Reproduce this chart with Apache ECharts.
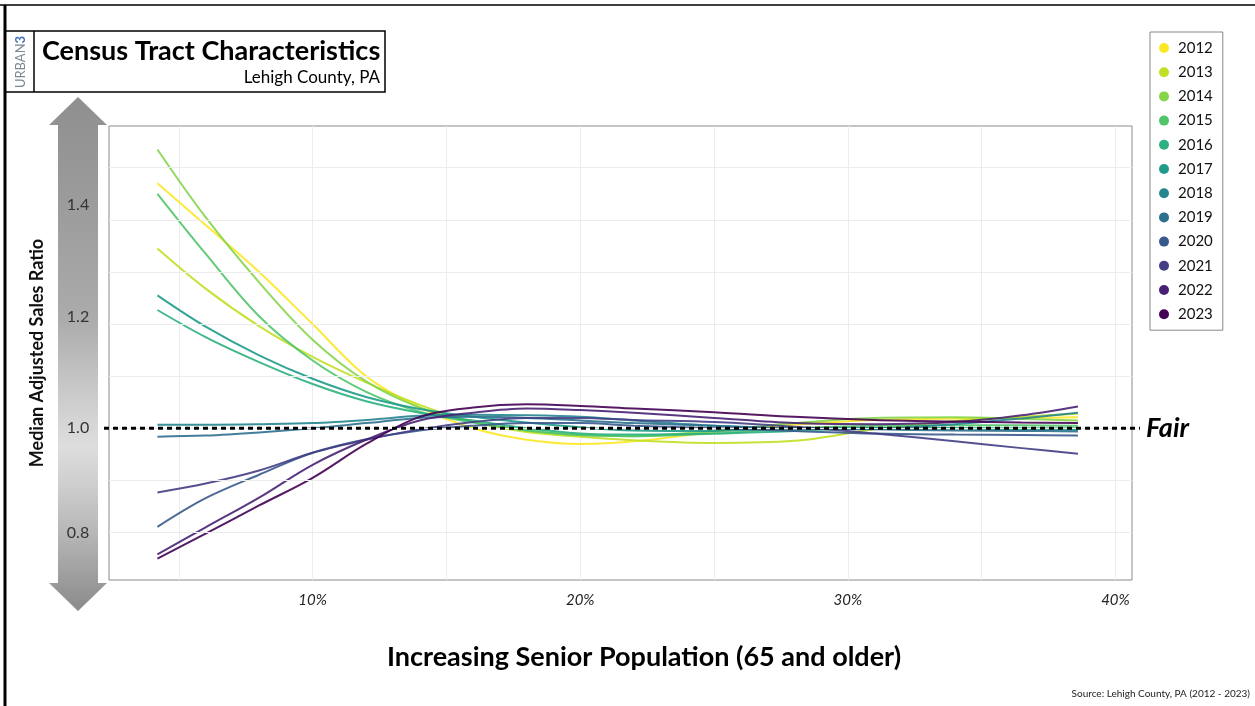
<!DOCTYPE html>
<html><head><meta charset="utf-8">
<script src="https://cdn.jsdelivr.net/npm/echarts@6/dist/echarts.min.js"></script>
<style>html,body{margin:0;padding:0;background:#fff}#c{width:1255px;height:706px}</style>
</head><body><div id="c"></div>
<script>
const years = ['2012','2013','2014','2015','2016','2017','2018','2019','2020','2021','2022','2023'];
const colors = ['#FDE725','#C2DF23','#85D54A','#51C56A','#2BB07F','#1E9B8A','#25858E','#2D708E','#38598C','#433E85','#482173','#440154'];
const xPct = [4.2, 6, 8, 10, 12, 14, 16, 18, 20, 22, 25, 28, 31, 34, 36.5, 38.6];
const r2012 = [1.47, 1.39, 1.30, 1.20, 1.10, 1.04, 1.0, 0.978, 0.970, 0.975, 0.993, 1.007, 1.016, 1.019, 1.02, 1.021];
const r2013 = [1.345, 1.268, 1.196, 1.137, 1.088, 1.045, 1.012, 0.993, 0.984, 0.977, 0.972, 0.976, 0.998, 1.014, 1.022, 1.028];
const r2014 = [1.535, 1.405, 1.28, 1.17, 1.09, 1.04, 1.012, 0.996, 0.987, 0.985, 0.995, 1.01, 1.02, 1.021, 1.018, 1.015];
const r2015 = [1.45, 1.335, 1.215, 1.13, 1.07, 1.032, 1.011, 0.996, 0.987, 0.985, 0.99, 1.0, 1.005, 1.006, 1.006, 1.005];
const r2016 = [1.227, 1.175, 1.127, 1.085, 1.052, 1.03, 1.015, 1.0, 0.99, 0.988, 0.99, 0.995, 1.0, 1.0, 1.0, 1.0];
const r2017 = [1.255, 1.195, 1.14, 1.095, 1.06, 1.037, 1.022, 1.011, 1.002, 0.996, 0.995, 1.0, 1.0, 1.0, 0.998, 0.997];
const r2018 = [1.007, 1.007, 1.008, 1.01, 1.016, 1.024, 1.026, 1.025, 1.022, 1.015, 1.005, 1.0, 1.0, 1.008, 1.019, 1.03];
const r2019 = [0.984, 0.986, 0.992, 1.0, 1.01, 1.02, 1.022, 1.02, 1.015, 1.01, 1.005, 1.0, 0.998, 0.996, 0.995, 0.994];
const r2020 = [0.811, 0.866, 0.911, 0.953, 0.979, 0.996, 1.005, 1.01, 1.01, 1.005, 1.0, 0.995, 0.99, 0.988, 0.987, 0.986];
const r2021 = [0.877, 0.894, 0.919, 0.953, 0.978, 0.998, 1.012, 1.02, 1.02, 1.016, 1.012, 1.003, 0.99, 0.975, 0.962, 0.951];
const r2022 = [0.758, 0.81, 0.867, 0.93, 0.978, 1.015, 1.03, 1.038, 1.035, 1.03, 1.02, 1.01, 1.008, 1.012, 1.025, 1.042];
const r2023 = [0.75, 0.798, 0.852, 0.905, 0.97, 1.022, 1.04, 1.046, 1.043, 1.038, 1.031, 1.022, 1.016, 1.013, 1.011, 1.01];
const ratios = [r2012, r2013, r2014, r2015, r2016, r2017, r2018, r2019, r2020, r2021, r2022, r2023];
const xGridValues = [5, 10, 15, 20, 25, 30, 35, 40];
const xLabelValues = [10, 20, 30, 40];
const yGridValues = [0.8, 0.9, 1.0, 1.1, 1.2, 1.3, 1.4, 1.5];
const yLabelValues = [0.8, 1.0, 1.2, 1.4];
const fairValue = 1.0;

const FONT = 'Lato';
const chart = echarts.init(document.getElementById('c'), null, {renderer: 'canvas'});

const series = years.map((y, i) => ({
  name: y, type: 'line', smooth: 0.35, showSymbol: false, symbol: 'circle',
  data: xPct.map((x, j) => [x, ratios[i][j]]),
  lineStyle: {width: 2, color: colors[i], opacity: 0.9},
  itemStyle: {color: colors[i]},
  emphasis: {disabled: true}, z: 3
}));

// label nudges (pixels upward) so the tick text sits where the reference places it on the arrow
const labelLift = {'1.4': 15, '1.2': 7};

chart.setOption({
  animation: false,
  backgroundColor: '#fff',
  grid: {left: 109, top: 126, right: 123, bottom: 126, show: true, borderColor: '#8a8a8a', borderWidth: 1, backgroundColor: '#fff'},
  legend: {
    orient: 'vertical', left: 1150, top: 32, data: years, icon: 'circle',
    itemWidth: 18, itemHeight: 10, itemGap: 8.2,
    padding: [8, 10, 8, 9], borderColor: '#888', borderWidth: 1,
    textStyle: {fontFamily: FONT, fontSize: 15, color: '#111', lineHeight: 16}
  },
  xAxis: {
    type: 'value', min: 2.39, max: 40.62,
    axisLine: {show: false}, axisTick: {show: false, customValues: xGridValues},
    splitLine: {show: true, lineStyle: {color: '#ececec', width: 1}},
    axisLabel: {customValues: xLabelValues, formatter: v => v + '%', margin: 13,
      fontFamily: FONT, fontStyle: 'italic', fontSize: 15, color: '#222'}
  },
  yAxis: {
    type: 'value', min: 0.709, max: 1.58, z: 10,
    name: 'Median Adjusted Sales Ratio', nameLocation: 'middle', nameGap: 63, nameRotate: 90,
    nameTextStyle: {fontFamily: FONT, fontWeight: 'bold', fontSize: 18, color: '#111'},
    axisLine: {show: false}, axisTick: {show: false, customValues: yGridValues},
    splitLine: {show: true, lineStyle: {color: '#ececec', width: 1}},
    axisLabel: {customValues: yLabelValues, margin: 31, align: 'center',
      formatter: v => {
        const t = v.toFixed(1);
        const lift = labelLift[t] || 0;
        return lift ? '{l' + lift + '|' + t + '}' : t;
      },
      rich: {
        l15: {padding: [0, 0, 30, 0], fontFamily: FONT, fontSize: 16, color: '#333'},
        l7: {padding: [0, 0, 14, 0], fontFamily: FONT, fontSize: 16, color: '#333'}
      },
      fontFamily: FONT, fontSize: 16, color: '#333'}
  },
  series: series
});

const yFair = chart.convertToPixel({yAxisIndex: 0}, fairValue);
const grad = new echarts.graphic.LinearGradient(0, 0, 0, 1, [
  {offset: 0, color: '#8f8f8f'}, {offset: 0.2, color: '#9b9b9b'}, {offset: 0.43, color: '#ababab'},
  {offset: 0.6, color: '#cfcfcf'}, {offset: 0.68, color: '#dddddd'}, {offset: 0.76, color: '#cdcdcd'},
  {offset: 0.86, color: '#b3b3b3'}, {offset: 1, color: '#8a8a8a'}
]);

chart.setOption({
  graphic: [
    {type: 'line', shape: {x1: 0, y1: 5, x2: 1255, y2: 5}, style: {stroke: '#000', lineWidth: 1.5}, z: 100},
    {type: 'line', shape: {x1: 5, y1: 5, x2: 5, y2: 706}, style: {stroke: '#000', lineWidth: 3}, z: 100},
    {type: 'rect', shape: {x: 5, y: 31, width: 380, height: 61}, style: {fill: '#fff', stroke: '#000', lineWidth: 1.5}, z: 90},
    {type: 'line', shape: {x1: 34, y1: 31, x2: 34, y2: 92}, style: {stroke: '#000', lineWidth: 1.5}, z: 100},
    {type: 'text', x: 21, y: 62, rotation: Math.PI / 2, z: 100,
      style: {text: '{a|URBAN}{b|3}', align: 'center', verticalAlign: 'middle',
        rich: {a: {fontFamily: FONT, fontSize: 13, fill: '#7c8794'}, b: {fontFamily: FONT, fontSize: 13, fontWeight: 'bold', fill: '#3f72b5'}}}},
    {type: 'text', x: 42, y: 51, z: 100, style: {text: 'Census Tract Characteristics', fontFamily: FONT, fontWeight: 'bold', fontSize: 27, fill: '#000', verticalAlign: 'middle', align: 'left'}},
    {type: 'text', x: 380, y: 78, z: 100, style: {text: 'Lehigh County, PA', fontFamily: FONT, fontSize: 17, fill: '#000', verticalAlign: 'middle', align: 'right'}},
    {type: 'polygon', z: -1, shape: {points: [[78, 97], [107, 125], [98, 125], [98, 583], [107, 583], [78, 611], [49, 583], [58, 583], [58, 125], [49, 125]]}, style: {fill: grad}},
    {type: 'line', z: 100, shape: {x1: 104, y1: yFair, x2: 1140, y2: yFair}, style: {stroke: '#000', lineWidth: 3, lineDash: [5, 4]}},
    {type: 'text', x: 1146, y: yFair, z: 100, style: {text: 'Fair', fontFamily: FONT, fontWeight: 'bold', fontStyle: 'italic', fontSize: 27, fill: '#000', verticalAlign: 'middle', align: 'left'}},
    {type: 'text', x: 644, y: 657, z: 100, style: {text: 'Increasing Senior Population (65 and older)', fontFamily: FONT, fontWeight: 'bold', fontSize: 27, fill: '#000', verticalAlign: 'middle', align: 'center'}},
    {type: 'text', x: 1250, y: 694, z: 100, style: {text: 'Source: Lehigh County, PA (2012 - 2023)', fontFamily: FONT, fontSize: 10, fill: '#222', verticalAlign: 'middle', align: 'right'}}
  ]
});
</script></body></html>
